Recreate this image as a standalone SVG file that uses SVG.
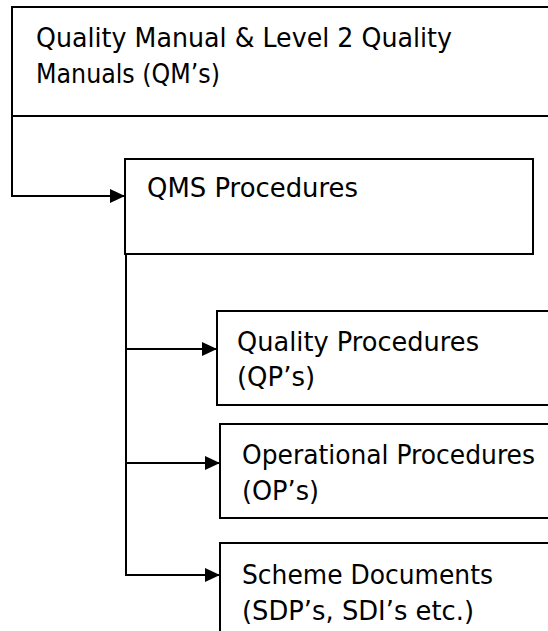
<svg xmlns="http://www.w3.org/2000/svg" width="548" height="631" viewBox="0 0 548 631">
<defs>
<marker id="ah" markerWidth="15" markerHeight="14" refX="15" refY="7" orient="auto" markerUnits="userSpaceOnUse">
<path d="M0,0 L15,7 L0,14 Z" fill="#000"/>
</marker>
<style>
.box{fill:#fff;stroke:#000;stroke-width:2}
.t{font-family:"DejaVu Sans","Liberation Sans",sans-serif;font-size:26px;fill:#000}
.c{fill:none;stroke:#000;stroke-width:2}
</style>
</defs>
<rect width="548" height="631" fill="#fff"/>
<g id="qm">
<rect class="box" x="12" y="7" width="560" height="109"/>
<text class="t" x="36" y="47" textLength="416" lengthAdjust="spacingAndGlyphs">Quality Manual &amp; Level 2 Quality</text>
<text class="t" x="36" y="83" textLength="184" lengthAdjust="spacingAndGlyphs">Manuals (QM’s)</text>
</g>
<g id="qms">
<rect class="box" x="125" y="159" width="408" height="95"/>
<text class="t" x="147" y="197" textLength="211" lengthAdjust="spacingAndGlyphs">QMS Procedures</text>
</g>
<g id="qp">
<rect class="box" x="217" y="311" width="360" height="94"/>
<text class="t" x="237" y="351" textLength="242" lengthAdjust="spacingAndGlyphs">Quality Procedures</text>
<text class="t" x="237" y="386" textLength="78" lengthAdjust="spacingAndGlyphs">(QP’s)</text>
</g>
<g id="op">
<rect class="box" x="220" y="424" width="360" height="94"/>
<text class="t" x="242" y="464" textLength="293" lengthAdjust="spacingAndGlyphs">Operational Procedures</text>
<text class="t" x="242" y="500" textLength="77" lengthAdjust="spacingAndGlyphs">(OP’s)</text>
</g>
<g id="sd">
<rect class="box" x="220" y="543" width="360" height="120"/>
<text class="t" x="242" y="584" textLength="251" lengthAdjust="spacingAndGlyphs">Scheme Documents</text>
<text class="t" x="242" y="620" textLength="232" lengthAdjust="spacingAndGlyphs">(SDP’s, SDI’s etc.)</text>
</g>
<g id="connectors">
<path class="c" d="M12,116 V196 H125" marker-end="url(#ah)"/>
<path class="c" d="M126,254 V575"/>
<path class="c" d="M125,349 H217" marker-end="url(#ah)"/>
<path class="c" d="M125,463 H220" marker-end="url(#ah)"/>
<path class="c" d="M125,575 H220" marker-end="url(#ah)"/>
</g>
</svg>
